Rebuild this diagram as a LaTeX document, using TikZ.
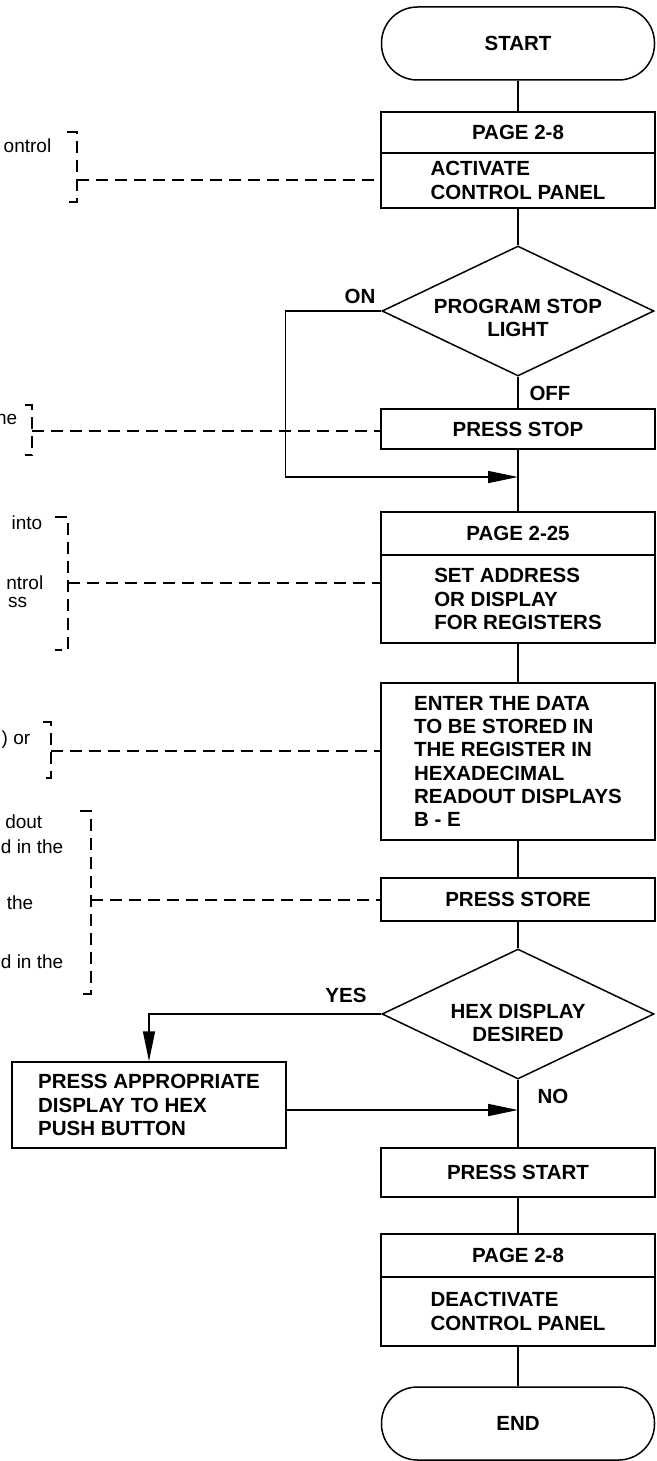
\documentclass[tikz,border=0pt]{standalone}
\usepackage{fontspec}
\setmainfont{Liberation Sans}
\usetikzlibrary{shapes.geometric,arrows.meta}
\begin{document}
\begin{tikzpicture}
  [x=1pt,y=-1pt,line width=1.5pt,
   every node/.style={inner sep=0pt,font=\bfseries\fontsize{20.5}{23.3}\selectfont},
   box/.style={draw,rectangle,minimum width=274pt,align=left},
   term/.style={draw,rectangle,rounded corners=36pt,minimum width=273pt,minimum height=73pt},
   test/.style={draw,diamond,aspect=2.1,minimum width=272pt,minimum height=130pt},
   flow/.style={-{Triangle[length=30pt,width=12pt]}},
   note/.style={dash pattern=on 12pt off 7pt},
   side/.style={anchor=base east,font=\fontsize{19}{22}\selectfont}]
\useasboundingbox (0,0) rectangle (656,1461);

\node (st)[term] at (518,43.5) {START};
\node (pg1)[box,minimum height=41pt] at (518,132.5) {PAGE 2-8};
\node (act)[box,minimum height=55pt] at (518,180.5) {ACTIVATE\\CONTROL PANEL};
\node (psl)[test,label={[yshift=-7pt,align=center]center:PROGRAM STOP\\LIGHT}] at (518,311) {};
\node (stop)[box,minimum height=40pt] at (518,429) {PRESS STOP};
\node (pg2)[box,minimum height=43pt] at (518,533.5) {PAGE 2-25};
\node (addr)[box,minimum height=88pt] at (518,599) {SET ADDRESS\\OR DISPLAY\\FOR REGISTERS};
\node (data)[box,minimum height=157pt] at (518,761.5) {ENTER THE DATA\\TO BE STORED IN\\THE REGISTER IN\\HEXADECIMAL\\READOUT DISPLAYS\\B - E};
\node (store)[box,minimum height=43pt] at (518,899.5) {PRESS STORE};
\node (hex)[test,label={[yshift=-9pt,align=center]center:HEX DISPLAY\\DESIRED}] at (518,1014) {};
\node (appr)[box,minimum height=86pt] at (149,1105) {PRESS APPROPRIATE\\DISPLAY TO HEX\\PUSH BUTTON};
\node (pst)[box,minimum height=49pt] at (518,1172.5) {PRESS START};
\node (pg3)[box,minimum height=43pt] at (518,1255.5) {PAGE 2-8};
\node (deact)[box,minimum height=69pt] at (518,1311.5) {DEACTIVATE\\CONTROL PANEL};
\node (fin)[term] at (518,1423.5) {END};

\node (on) at (360,296) {ON};
\node (off) at (550,393) {OFF};
\node (yes) at (346,995) {YES};
\node (no) at (553,1096) {NO};

% notes on the left, cut off by the page edge
\node (t1)[side] at (52,153) {ontrol};
\node (t2)[side] at (18,424) {he};
\node (t3)[side] at (43,529) {into};
\node (t4)[side] at (44,589) {ntrol};
\node (t5)[side] at (28,607) {ss};
\node (t6)[side] at (31,744) {) or};
\node (t7)[side] at (43,828) {dout};
\node (t8)[side] at (64,853) {d in the};
\node (t9)[side] at (34,909) {the};
\node (t10)[side] at (64,968) {d in the};

\coordinate (b1) at (77,180);
\coordinate (b2) at (32,431);
\coordinate (b3) at (68,583);
\coordinate (b4) at (51,751);
\coordinate (b5) at (91,900);
\coordinate (j1) at (518,477);
\coordinate (j2) at (518,1110);

 \foreach \from/\to in {st/pg1,act/psl,psl/stop,stop/pg2,addr/data,data/store,store/hex,hex/pst,pst/pg3,deact/fin}
    \draw (\from.south) -- (\to.north);

 \foreach \bx/\ya/\yb/\xt in {77/132/202/67,32/405/455/25,68/517/650/55,51/722/778/43,91/811/994/80}
    \draw[note] (\xt,\ya) -- (\bx,\ya) -- (\bx,\yb) -- (\xt,\yb);

 \foreach \from/\to in {b1/act,b2/stop,b3/addr,b4/data,b5/store}
    \draw[note] (\from) -- (\from -| \to.west);

 \draw[flow] (psl.west) -- ++(-96,0) |- (j1);
 \draw[flow] (hex.west) -| (appr.north);
 \draw[flow] (j2 -| appr.east) -- (j2);
\end{tikzpicture}
\end{document}
